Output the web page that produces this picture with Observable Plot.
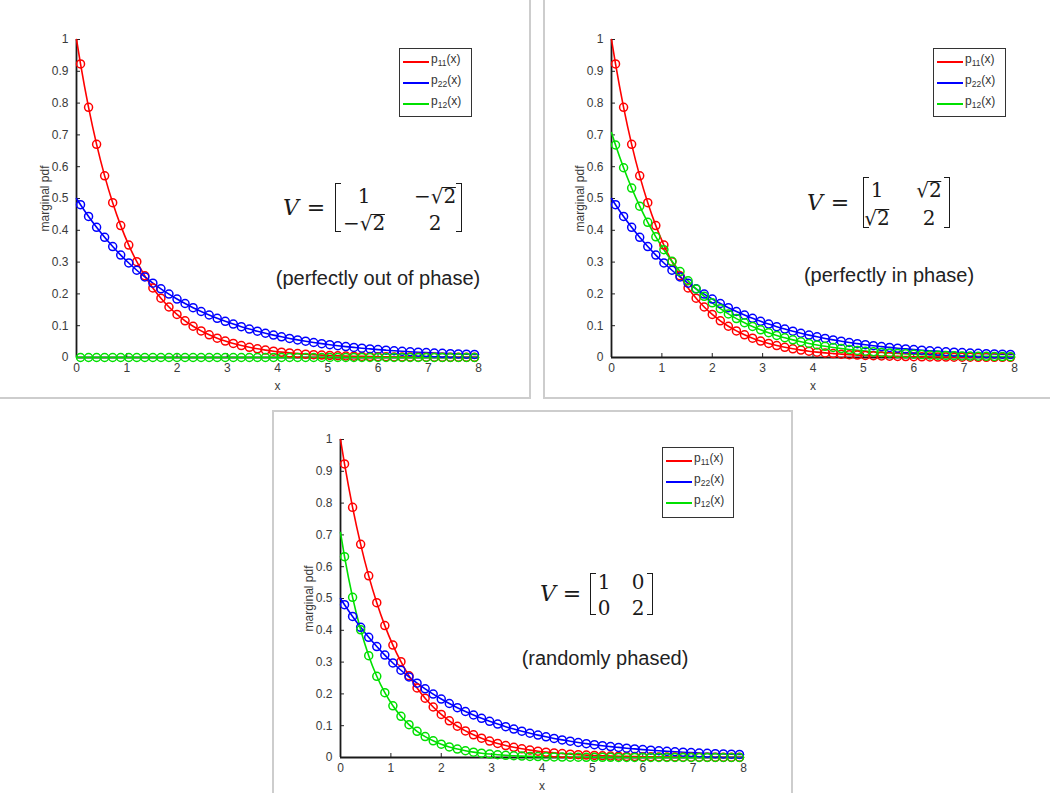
<!DOCTYPE html>
<html><head><meta charset="utf-8">
<script src="https://cdn.jsdelivr.net/npm/d3@7"></script>
<script src="https://cdn.jsdelivr.net/npm/@observablehq/plot@0.6"></script>
<style>
body{margin:0;background:#fff;}
#root{position:relative;width:1050px;height:793px;overflow:hidden;background:#fff;font-family:"Liberation Sans",Arial,sans-serif;}
.frame{position:absolute;box-sizing:border-box;border:0 solid #cdcdcd;}
.plotbox{position:absolute;}
.plotbox svg{display:block;}
.legend{position:absolute;box-sizing:border-box;border:1.5px solid #333;background:#fff;}
.legend .sw{position:absolute;left:3px;width:26px;height:1.5px;}
.legend .lt{position:absolute;left:31px;font-size:12px;color:#333;line-height:12px;transform:translateY(-55%);white-space:nowrap;}
.legend .lt sub{font-size:8.5px;vertical-align:-3px;}
.m{position:absolute;font-family:"DejaVu Serif","Liberation Serif",serif;font-size:20px;color:#1a1a1a;transform:translate(-50%,-50%);white-space:nowrap;line-height:1;}
.m.V{font-style:italic;font-size:22px;}
.m.eqs{font-size:22px;}
.br{position:absolute;box-sizing:border-box;width:6px;border:1.3px solid #1a1a1a;}
.br.l{border-right:none;}
.br.r{border-left:none;}
.ol{position:relative;}
.ol::before{content:"";position:absolute;left:-1px;right:0;top:3px;border-top:1.3px solid #1a1a1a;}
.cap{position:absolute;font-size:20px;color:#222;transform:translate(-50%,-50%);white-space:nowrap;}
</style></head>
<body><div id="root"></div>
<script>
// ---- data ----
const seriesNames = ["p11", "p22", "p12"];
const seriesColors = ["#ff0000", "#0000ff", "#00e000"];
const xTicks = [0, 1, 2, 3, 4, 5, 6, 7, 8];
const yTicks = [0, 0.1, 0.2, 0.3, 0.4, 0.5, 0.6, 0.7, 0.8, 0.9, 1];

// marker (histogram bin centre) positions
const xBins = [0.08,0.24,0.40,0.56,0.72,0.88,1.04,1.20,1.36,1.52,1.68,1.84,2.00,2.16,2.32,2.48,2.64,2.80,2.96,3.12,
  3.28,3.44,3.60,3.76,3.92,4.08,4.24,4.40,4.56,4.72,4.88,5.04,5.20,5.36,5.52,5.68,5.84,6.00,6.16,6.32,
  6.48,6.64,6.80,6.96,7.12,7.28,7.44,7.60,7.76,7.92];
const xLineStart = [0];
const xLineEnd = [8];

const p11 = [0.9231,0.7866,0.6703,0.5712,0.4868,0.4148,0.3535,0.3012,0.2567,0.2187,0.1864,0.1588,0.1353,0.1153,0.0983,0.0837,0.0714,0.0608,0.0518,0.0442,
  0.0376,0.0321,0.0273,0.0233,0.0198,0.0169,0.0144,0.0123,0.0105,0.0089,0.0076,0.0065,0.0055,0.0047,0.0040,0.0034,0.0029,0.0025,0.0021,0.0018,
  0.0015,0.0013,0.0011,0.0009,0.0008,0.0007,0.0006,0.0005,0.0004,0.0004];
const p22 = [0.4804,0.4435,0.4094,0.3779,0.3488,0.3220,0.2973,0.2744,0.2533,0.2338,0.2159,0.1993,0.1839,0.1698,0.1567,0.1447,0.1336,0.1233,0.1138,0.1051,
  0.0970,0.0895,0.0827,0.0763,0.0704,0.0650,0.0600,0.0554,0.0512,0.0472,0.0436,0.0402,0.0371,0.0343,0.0317,0.0292,0.0270,0.0249,0.0230,0.0212,
  0.0196,0.0181,0.0167,0.0154,0.0142,0.0131,0.0121,0.0112,0.0103,0.0095];
const p12Out = [0,0,0,0,0,0,0,0,0,0,0,0,0,0,0,0,0,0,0,0,0,0,0,0,0,0,0,0,0,0,0,0,0,0,0,0,0,0,0,0,0,0,0,0,0,0,0,0,0,0];
const p12In = [0.6682,0.5967,0.5329,0.4759,0.4250,0.3795,0.3389,0.3027,0.2703,0.2414,0.2156,0.1925,0.1719,0.1535,0.1371,0.1224,0.1093,0.0976,0.0872,0.0779,
  0.0695,0.0621,0.0555,0.0495,0.0442,0.0395,0.0353,0.0315,0.0281,0.0251,0.0224,0.0200,0.0179,0.0160,0.0143,0.0127,0.0114,0.0102,0.0091,0.0081,
  0.0072,0.0065,0.0058,0.0051,0.0046,0.0041,0.0037,0.0033,0.0029,0.0026];
const p12Rand = [0.6315,0.5036,0.4016,0.3203,0.2554,0.2037,0.1625,0.1296,0.1033,0.0824,0.0657,0.0524,0.0418,0.0333,0.0266,0.0212,0.0169,0.0135,0.0108,0.0086,
  0.0068,0.0055,0.0044,0.0035,0.0028,0.0022,0.0018,0.0014,0.0011,0.0009,0.0007,0.0006,0.0005,0.0004,0.0003,0.0002,0.0002,0.0001,0.0001,0.0001,
  0.0001,0,0,0,0,0,0,0,0,0];
// curve values at x = 0 and x = 8
const p11Ends = [1, 0.0003];
const p22Ends = [0.5, 0.0092];
const p12OutEnds = [0, 0];
const p12InEnds = [0.7071, 0.0025];
const p12RandEnds = [0.7071, 0];

const legendLabels = [["p","11","(x)"],["p","22","(x)"],["p","12","(x)"]];

// ---- drawing ----
const root = document.getElementById("root");
const xLine = [...xLineStart, ...xBins, ...xLineEnd];

function el(tag, cls, style, html) {
  const e = document.createElement(tag);
  if (cls) e.className = cls;
  if (style) e.setAttribute("style", style);
  if (html !== undefined) e.innerHTML = html;
  root.appendChild(e);
  return e;
}

function panel(cfg) {
  el("div", "frame", `left:${cfg.left}px;top:${cfg.top}px;width:${cfg.w}px;height:${cfg.h}px;${cfg.border}`);
  const lineData = [], dotData = [];
  cfg.series.forEach((s, k) => {
    const full = [s.ends[0], ...s.dots, s.ends[1]];
    full.forEach((v, i) => lineData.push({x: xLine[i], y: v, s: seriesNames[k]}));
  });
  cfg.series.forEach((s, k) => {
    s.dots.forEach((v, i) => dotData.push({x: xBins[i], y: v, s: seriesNames[k]}));
  });
  const fmt = d3.format("~g");
  const svg = Plot.plot({
    width: cfg.w, height: cfg.h,
    marginLeft: cfg.ml, marginRight: cfg.mr, marginTop: cfg.mt, marginBottom: cfg.mb,
    style: {fontFamily: "'Liberation Sans', Arial, sans-serif", fontSize: "12px", color: "#3a3a3a", background: "transparent", overflow: "visible"},
    x: {domain: [0, 8]},
    y: {domain: [0, 1]},
    color: {domain: seriesNames, range: seriesColors},
    marks: [
      Plot.axisX({ticks: xTicks, tickFormat: fmt, tickSize: -4, tickPadding: 10, label: "x", labelAnchor: "center", labelArrow: "none", labelOffset: 32, stroke: "#222"}),
      Plot.axisY({ticks: yTicks, tickFormat: fmt, tickSize: -4, tickPadding: 12, label: "marginal pdf", labelAnchor: "center", labelArrow: "none", labelOffset: 36, stroke: "#222"}),
      Plot.ruleX([0], {y1: 0, y2: 1, stroke: "#1a1a1a", strokeWidth: 1.8}),
      Plot.ruleY([0], {x1: 0, x2: 8, stroke: "#1a1a1a", strokeWidth: 1.8}),
      Plot.line(lineData, {x: "x", y: "y", z: "s", stroke: "s", strokeWidth: 1.6, curve: "monotone-x"}),
      Plot.dot(dotData, {x: "x", y: "y", stroke: "s", r: 4, strokeWidth: 1.5, fill: "none"})
    ]
  });
  const box = el("div", "plotbox", `left:${cfg.left}px;top:${cfg.top}px;`);
  box.appendChild(svg);

  // legend
  const lg = el("div", "legend", `left:${cfg.lg[0]}px;top:${cfg.lg[1]}px;width:${cfg.lg[2]}px;height:${cfg.lg[3]}px;`);
  legendLabels.forEach((lab, i) => {
    const yy = 12 + i * 21;
    const sw = document.createElement("div");
    sw.className = "sw"; sw.style.top = (yy) + "px"; sw.style.background = seriesColors[i];
    lg.appendChild(sw);
    const t = document.createElement("div");
    t.className = "lt"; t.style.top = (yy + 1) + "px";
    t.innerHTML = `${lab[0]}<sub>${lab[1]}</sub>${lab[2]}`;
    lg.appendChild(t);
  });

  // equation
  const q = cfg.eq;
  el("div", "m V", `left:${q.V[0]}px;top:${q.V[1]}px;`, "V");
  el("div", "m eqs", `left:${q.E[0]}px;top:${q.E[1]}px;`, "=");
  el("div", "br l", `left:${q.b[0]}px;top:${q.b[2]}px;height:${q.b[3]-q.b[2]}px;`);
  el("div", "br r", `left:${q.b[1]-6}px;top:${q.b[2]}px;height:${q.b[3]-q.b[2]}px;`);
  q.cells.forEach((row, r) => row.forEach((c, ci) => {
    el("div", "m", `left:${q.cols[ci]}px;top:${q.rows[r]}px;`, c);
  }));
  el("div", "cap", `left:${cfg.cap[0]}px;top:${cfg.cap[1]}px;`, cfg.cap[2]);
}

const rt2 = '√<span class="ol">2</span>';
const mrt2 = '−√<span class="ol">2</span>';

panel({
  left: 0, top: 0, w: 531, h: 399, ml: 76, mr: 53, mt: 39, mb: 42,
  border: "border-right-width:2px;border-bottom-width:2px;",
  series: [{dots: p11, ends: p11Ends}, {dots: p22, ends: p22Ends}, {dots: p12Out, ends: p12OutEnds}],
  lg: [399, 48, 73, 69],
  eq: {V: [291, 208], E: [316, 208], b: [335, 462, 183, 232], cols: [364, 435], rows: [196, 223], cells: [["1", mrt2], [mrt2, "2"]]},
  cap: [378, 278, "(perfectly out of phase)"]
});
panel({
  left: 543, top: 0, w: 507, h: 399, ml: 68, mr: 36, mt: 39, mb: 42,
  border: "border-left-width:2px;border-bottom-width:2px;",
  series: [{dots: p11, ends: p11Ends}, {dots: p22, ends: p22Ends}, {dots: p12In, ends: p12InEnds}],
  lg: [933, 48, 73, 69],
  eq: {V: [815, 203], E: [840, 203], b: [863, 950, 177, 228], cols: [877, 929], rows: [190, 218], cells: [["1", rt2], [rt2, "2"]]},
  cap: [889, 275, "(perfectly in phase)"]
});
panel({
  left: 272, top: 410, w: 521, h: 383, ml: 68, mr: 50, mt: 29, mb: 36,
  border: "border-left-width:2px;border-top-width:2px;border-right-width:2px;",
  series: [{dots: p11, ends: p11Ends}, {dots: p22, ends: p22Ends}, {dots: p12Rand, ends: p12RandEnds}],
  lg: [662, 447, 72, 71],
  eq: {V: [548, 594], E: [572, 594], b: [590, 653, 573, 615], cols: [604, 638], rows: [582, 608], cells: [["1", "0"], ["0", "2"]]},
  cap: [605, 658, "(randomly phased)"]
});
</script></body></html>
